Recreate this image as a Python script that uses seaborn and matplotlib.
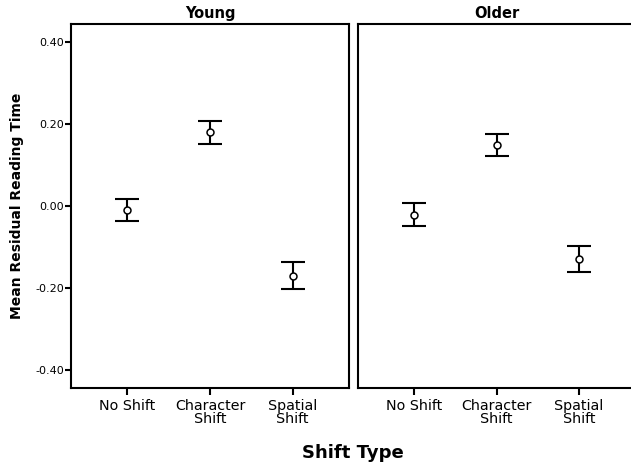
import numpy as np
import pandas as pd
import matplotlib
matplotlib.use("Agg")
import matplotlib.pyplot as plt
import seaborn as sns

# datos
tipos = ["No Shift", "Character\nShift", "Spatial\nShift"]
grupos = ["Young", "Older"]
medias_young = [-0.010, 0.180, -0.170]
medias_older = [-0.021, 0.150, -0.130]
err_bajo_young = [-0.036, 0.151, -0.203]
err_alto_young = [0.018, 0.208, -0.138]
err_bajo_older = [-0.050, 0.123, -0.161]
err_alto_older = [0.007, 0.177, -0.097]
ticks_y = [-0.40, -0.20, 0.00, 0.20, 0.40]

sns.set_style("white")
plt.rcParams['font.family'] = ['DejaVu Sans']
# todo el texto en negro
plt.rcParams['text.color'] = 'black'
plt.rcParams['axes.labelcolor'] = 'black'
plt.rcParams['xtick.color'] = 'black'
plt.rcParams['ytick.color'] = 'black'

df = pd.DataFrame({
    'Grupo': np.repeat(grupos, 3),
    'Tipo': tipos * 2,
    'Media': medias_young + medias_older,
    'Bajo': err_bajo_young + err_bajo_older,
    'Alto': err_alto_young + err_alto_older,
})

W, H = 631, 467
fig = plt.figure(figsize=(W / 100, H / 100), dpi=100)
# posiciones en pixeles: izquierda, arriba, derecha, abajo
paneles = [(71, 24, 349, 388), (358, 24, 635, 388)]

for i, grupo in enumerate(grupos):
    x0, y0, x1, y1 = paneles[i]
    ax = fig.add_axes([x0 / W, 1 - y1 / H, (x1 - x0) / W, (y1 - y0) / H])
    sub = df[df['Grupo'] == grupo].reset_index(drop=True)
    # barras de error
    ax.errorbar(np.arange(len(sub)), sub['Media'],
                yerr=[sub['Media'] - sub['Bajo'], sub['Alto'] - sub['Media']],
                fmt='none', ecolor='black', elinewidth=1.5, capsize=8.5,
                capthick=1.5, zorder=2)
    # puntos de la media
    sns.pointplot(data=sub, x='Tipo', y='Media', errorbar=None,
                  linestyle='none', marker='o', markersize=5,
                  markerfacecolor='white', markeredgecolor='black',
                  markeredgewidth=1.1, color='black', ax=ax, zorder=3)
    ax.set_xlim(-0.68, 2.68)
    ax.set_ylim(-0.445, 0.445)
    ax.set_xlabel('')
    ax.set_ylabel('')
    ax.set_title(grupo, fontsize=10.5, fontweight='bold', pad=4,
                 color='black')
    for s in ax.spines.values():
        s.set_color('black')
        s.set_linewidth(1.5)
    ax.tick_params(axis='x', length=5, width=1.5, color='black',
                   labelsize=10.3, pad=3, bottom=True, labelcolor='black')
    for lab in ax.get_xticklabels():
        lab.set_linespacing(0.9)
    if i == 0:
        ax.set_yticks(ticks_y)
        ax.set_yticklabels([f"{v:.2f}" for v in ticks_y])
        ax.tick_params(axis='y', length=4, width=1.5, color='black',
                       labelsize=8, pad=1, left=True, labelcolor='black')
        ax.set_ylabel('Mean Residual Reading Time', fontsize=10,
                      fontweight='bold', labelpad=8, color='black')
    else:
        ax.set_yticks([])

fig.text(353 / W, 1 - 453 / H, 'Shift Type', ha='center', va='center',
         fontsize=13, fontweight='bold', color='black')

fig.savefig('out.png', dpi=100)
